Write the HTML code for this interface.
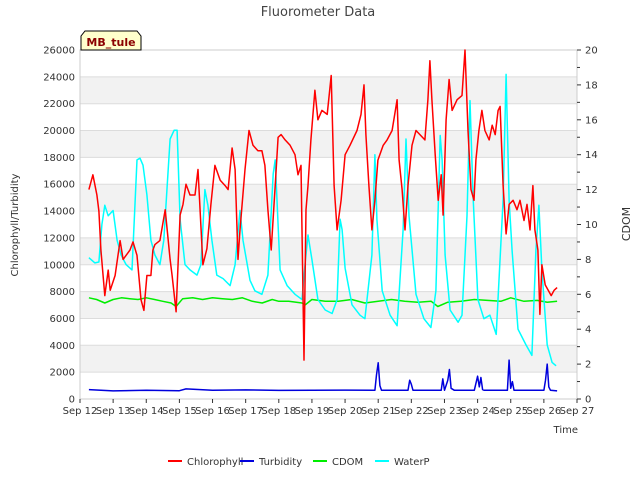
<!DOCTYPE html>
<html><head><meta charset="utf-8"><style>
body{margin:0;background:#fff;font-family:"Liberation Sans","DejaVu Sans",sans-serif}
svg text{font-family:"DejaVu Sans","Liberation Sans",sans-serif}
</style></head><body>
<svg id="chart" width="640" height="480" xmlns="http://www.w3.org/2000/svg"></svg>
<script>
const xTickLabels=["Sep 12","Sep 13","Sep 14","Sep 15","Sep 16","Sep 17","Sep 18","Sep 19","Sep 20","Sep 21","Sep 22","Sep 23","Sep 24","Sep 25","Sep 26","Sep 27"];
const leftTicks=[0,2000,4000,6000,8000,10000,12000,14000,16000,18000,20000,22000,24000,26000];
const rightTicks=[0,2,4,6,8,10,12,14,16,18,20];
const chlT=[0.27,0.39,0.51,0.57,0.63,0.75,0.85,0.91,1.06,1.21,1.30,1.51,1.60,1.72,1.84,1.93,2.02,2.14,2.20,2.26,2.41,2.57,2.72,2.78,2.90,3.02,3.11,3.20,3.32,3.47,3.56,3.71,3.83,3.95,4.07,4.23,4.38,4.47,4.59,4.68,4.77,4.83,4.98,5.10,5.22,5.37,5.49,5.58,5.67,5.77,5.89,5.98,6.07,6.19,6.34,6.49,6.58,6.67,6.76,6.82,6.88,6.97,7.09,7.18,7.30,7.46,7.58,7.67,7.76,7.88,8.00,8.15,8.36,8.48,8.57,8.63,8.72,8.81,8.90,8.99,9.15,9.27,9.42,9.57,9.63,9.72,9.81,9.90,10.02,10.14,10.26,10.41,10.50,10.56,10.62,10.72,10.81,10.90,10.96,11.05,11.14,11.23,11.38,11.53,11.62,11.71,11.80,11.89,11.95,12.04,12.13,12.22,12.35,12.44,12.53,12.62,12.68,12.77,12.86,12.95,13.07,13.19,13.28,13.40,13.49,13.58,13.67,13.73,13.82,13.88,13.94,14.04,14.13,14.22,14.31,14.40];
const chlV=[15600,16700,15200,14000,11100,7700,9600,8100,9200,11800,10400,11100,11700,10700,7400,6600,9200,9200,11100,11500,11800,14100,10400,9200,6500,13700,14500,16000,15200,15200,17100,10000,11200,14500,17400,16300,15900,15600,18700,17100,10400,12600,17100,20000,18900,18500,18500,17400,14100,11100,15900,19500,19700,19300,18900,18200,16700,17400,2900,14100,15900,19300,23000,20800,21500,21200,24100,15900,12600,14800,18200,18900,20000,21200,23400,19700,15900,12600,14800,17800,18900,19300,20000,22300,17800,15600,12600,15900,18900,20000,19700,19300,22300,25200,22300,18200,14800,16700,13700,20800,23800,21500,22300,22600,26000,20000,15600,14800,17800,20000,21500,20000,19300,20400,19700,21500,21800,15900,12300,14500,14800,14100,14800,13300,14500,12600,15900,12600,11100,6300,10000,8500,8100,7700,8100,8300];
const wpT=[0.27,0.45,0.57,0.66,0.75,0.85,1.00,1.12,1.24,1.39,1.57,1.72,1.81,1.90,2.02,2.14,2.26,2.41,2.53,2.72,2.84,2.93,3.02,3.17,3.32,3.53,3.65,3.77,3.86,3.98,4.13,4.32,4.53,4.68,4.83,4.92,5.13,5.28,5.49,5.67,5.83,5.89,6.04,6.25,6.49,6.70,6.79,6.88,7.00,7.18,7.40,7.61,7.76,7.85,7.91,8.00,8.21,8.45,8.60,8.81,8.90,8.96,9.12,9.36,9.57,9.75,9.84,9.93,10.14,10.38,10.59,10.74,10.87,10.93,11.02,11.17,11.41,11.53,11.68,11.77,11.86,12.01,12.19,12.37,12.56,12.77,12.86,12.95,13.04,13.22,13.46,13.64,13.76,13.85,13.94,14.10,14.25,14.37];
const wpV=[8.1,7.8,7.85,10.0,11.1,10.5,10.8,9.1,8.25,7.7,7.4,13.7,13.8,13.4,11.7,9.1,8.25,7.7,9.1,14.9,15.4,15.4,10.3,7.7,7.4,7.1,7.7,12.0,11.1,9.1,7.1,6.9,6.5,7.7,10.8,9.1,6.8,6.2,6.0,7.1,12.9,13.7,7.4,6.5,6.0,5.7,7.7,9.4,8.0,5.7,5.1,4.9,5.7,10.3,9.7,7.5,5.4,4.8,4.6,8.25,14.0,10.3,6.2,4.8,4.2,9.7,14.9,10.5,6.0,4.6,4.1,6.2,15.1,13.7,8.25,5.1,4.4,4.8,10.5,17.1,11.7,5.7,4.6,4.8,3.7,11.4,18.6,11.4,8.5,4.0,3.1,2.5,8.5,11.1,7.4,3.1,2.1,1.9];
const cdT=[0.27,0.5,0.75,1.0,1.25,1.5,1.75,2.0,2.25,2.5,2.75,2.9,3.1,3.4,3.7,4.0,4.3,4.6,4.9,5.2,5.5,5.8,6.0,6.3,6.7,6.8,7.0,7.4,7.8,8.2,8.6,9.0,9.4,9.8,10.2,10.6,10.8,11.1,11.5,11.9,12.3,12.7,13.0,13.4,13.8,14.1,14.4];
const cdV=[5.8,5.7,5.5,5.7,5.8,5.75,5.7,5.8,5.7,5.6,5.5,5.3,5.75,5.8,5.7,5.8,5.75,5.7,5.8,5.6,5.5,5.7,5.6,5.6,5.5,5.4,5.7,5.6,5.6,5.7,5.5,5.6,5.7,5.6,5.55,5.6,5.3,5.55,5.6,5.7,5.65,5.6,5.8,5.6,5.65,5.55,5.6];
const tuT=[0.27,1.0,2.0,3.0,3.2,4.0,5.0,6.0,7.0,8.0,8.9,8.95,9.0,9.05,9.1,9.9,9.95,10.0,10.05,10.9,10.95,11.0,11.1,11.15,11.2,11.3,11.9,12.0,12.05,12.1,12.15,12.2,12.9,12.95,13.0,13.05,13.1,14.0,14.05,14.1,14.15,14.2,14.4];
const tuV=[700,600,650,620,750,650,680,640,650,660,650,1800,2700,1000,650,650,1400,1100,650,650,1500,650,1400,2200,800,650,650,1700,900,1600,700,650,650,2900,800,1300,650,650,1400,2600,900,650,600];
const svg=document.getElementById('chart');const NS='http://www.w3.org/2000/svg';
const L=80,R=577,T=50,B=399,D0=0,D1=15;
const xS=d=>L+(d-D0)/(D1-D0)*(R-L), yL=v=>B-v/26000*(B-T), yR=v=>B-v/20*(B-T);
function mk(tag,a,parent){const e=document.createElementNS(NS,tag);for(const k in a)e.setAttribute(k,a[k]);(parent||svg).appendChild(e);return e;}
const bg=mk('g',{});


for(let i=0;i<13;i++){if(i%2===1){const r=mk('rect',{x:L,y:yL((i+1)*2000),width:R-L,height:yL(i*2000)-yL((i+1)*2000),fill:'#f2f2f2'},bg);}}
leftTicks.forEach(v=>{mk('line',{x1:L,x2:R,y1:yL(v),y2:yL(v),stroke:'#dcdcdc','stroke-width':1},bg);});
mk('rect',{x:L,y:T,width:R-L,height:B-T,fill:'none',stroke:'#ccc'},bg);
const ax=mk('g',{'font-size':10,fill:'#333'});


leftTicks.forEach(v=>{const t=mk('text',{x:L-5,y:yL(v)+3.5,'text-anchor':'end'},ax);t.textContent=v;});
rightTicks.forEach(v=>{mk('line',{x1:R,x2:R+4,y1:yR(v),y2:yR(v),stroke:'#333'},ax);const t=mk('text',{x:R+8,y:yR(v)+3.5},ax);t.textContent=v;});
for(let v=1;v<20;v+=2)mk('line',{x1:R,x2:R+3,y1:yR(v),y2:yR(v),stroke:'#333'},ax);
xTickLabels.forEach((s,i)=>{mk('line',{x1:xS(i),x2:xS(i),y1:B,y2:B+4,stroke:'#333'},ax);const t=mk('text',{x:xS(i),y:B+15,'text-anchor':'middle'},ax);t.textContent=s;});
function series(ts,vs,sc,col,name,w){let d='';ts.forEach((t,i)=>{d+=(i?'L':'M')+xS(t).toFixed(1)+','+sc(vs[i]).toFixed(1);});const p=mk('path',{d:d,fill:'none',stroke:col,'stroke-width':w,'stroke-linejoin':'round'});}
series(cdT,cdV,yR,'#00ee00','cdom-line',1.5);
series(wpT,wpV,yR,'#00ffff','waterp-line',1.5);
series(tuT,tuV,yL,'#0000dd','turbidity-line',1.5);
series(chlT,chlV,yL,'#ff0000','chlorophyll-line',1.5);
const title=mk('text',{x:318,y:16,'text-anchor':'middle','font-size':13,fill:'#444'});title.textContent='Fluorometer Data';

const yl=mk('text',{x:18,y:225,'text-anchor':'middle','font-size':10,fill:'#333',transform:'rotate(-90 18 225)'});yl.textContent='Chlorophyll/Turbidity';

const yr=mk('text',{x:630,y:224,'text-anchor':'middle','font-size':11,fill:'#333',transform:'rotate(-90 630 224)'});yr.textContent='CDOM';

const xl=mk('text',{x:578,y:433,'text-anchor':'end','font-size':10,fill:'#333'});xl.textContent='Time';

const box=mk('g',{});
mk('path',{d:'M81,50 L81,36 L85,31 L137,31 L141,36 L141,50 Z',fill:'#ffffcc',stroke:'#000'},box);
const bt=mk('text',{x:111,y:46,'text-anchor':'middle','font-size':11,'font-weight':'bold',fill:'#8b0000'},box);bt.textContent='MB_tule';
const legNames=["Chlorophyll","Turbidity","CDOM","WaterP"],legCols=['#ff0000','#0000dd','#00ee00','#00ffff'],legX=[168,240,313,375];
legNames.forEach((n,i)=>{const g=mk('g',{});mk('line',{x1:legX[i],x2:legX[i]+14,y1:461,y2:461,stroke:legCols[i],'stroke-width':2},g);const t=mk('text',{x:legX[i]+19,y:465,'font-size':10,fill:'#333'},g);t.textContent=n;});
</script>
</body></html>
